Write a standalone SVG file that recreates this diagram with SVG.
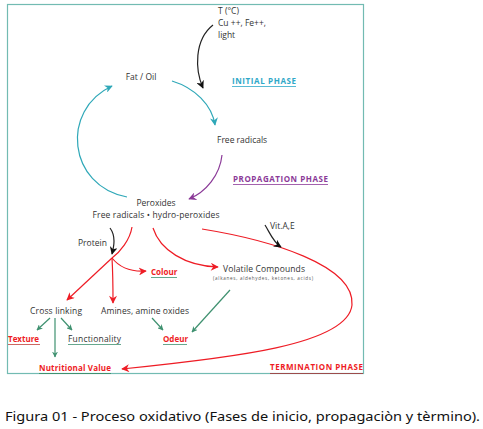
<svg xmlns="http://www.w3.org/2000/svg" width="483" height="429" viewBox="0 0 483 429">
<defs>
<style>
.t{font-family:"Open Sans","Noto Sans","Liberation Sans",sans-serif;font-size:8.5px;fill:#333}
.b{font-family:"Open Sans","Noto Sans","Liberation Sans",sans-serif;font-size:8px;font-weight:bold}
.s{font-family:"Open Sans","Noto Sans","Liberation Sans",sans-serif;font-size:4.6px;fill:#555}
.cap{font-family:"Noto Sans","Open Sans",sans-serif;font-size:12.5px;fill:#111}
.c{fill:none;stroke-width:1.2}
</style>
<marker id="aT" viewBox="0 0 10 10" refX="9" refY="5" markerWidth="8" markerHeight="8" orient="auto" markerUnits="userSpaceOnUse"><path d="M0,0 L10,5 L0,10 L3,5 z" fill="#2fa8b8"/></marker>
<marker id="aK" viewBox="0 0 10 10" refX="9" refY="5" markerWidth="8" markerHeight="8" orient="auto" markerUnits="userSpaceOnUse"><path d="M0,0 L10,5 L0,10 L3,5 z" fill="#111"/></marker>
<marker id="aP" viewBox="0 0 10 10" refX="9" refY="5" markerWidth="8" markerHeight="8" orient="auto" markerUnits="userSpaceOnUse"><path d="M0,0 L10,5 L0,10 L3,5 z" fill="#8b3a98"/></marker>
<marker id="aR" viewBox="0 0 10 10" refX="9" refY="5" markerWidth="9" markerHeight="8" orient="auto" markerUnits="userSpaceOnUse"><path d="M0,0 L10,5 L0,10 L3,5 z" fill="#ee1c25"/></marker>
<marker id="aG" viewBox="0 0 10 10" refX="9" refY="5" markerWidth="6" markerHeight="6" orient="auto" markerUnits="userSpaceOnUse"><path d="M0,0 L10,5 L0,10 L3,5 z" fill="#3f9170"/></marker>
</defs>
<rect x="0" y="0" width="483" height="429" fill="#fff"/>
<rect x="7.5" y="4.5" width="356" height="369" fill="none" stroke="#72bbb2" stroke-width="1.2"/>

<g id="connectors">
<path class="c" d="M213,25 C194,40 195,70 203,88" stroke="#222" marker-end="url(#aK)"/>
<path class="c" d="M172,81 C195,88 212,105 215,125" stroke="#2fa8b8" marker-end="url(#aT)"/>
<path class="c" d="M222,155 C220,175 206,192 189,199" stroke="#8b3a98" marker-end="url(#aP)"/>
<path class="c" d="M127,197 C68,186 60,110 112,86" stroke="#2fa8b8" marker-end="url(#aT)"/>
<path class="c" d="M110,228 C116,236 114,246 112,254" stroke="#222" marker-end="url(#aK)"/>
<path class="c" d="M132,227 C130,240 120,252 112,258" stroke="#ee1c25"/>
<path class="c" d="M112,258 L67,300" stroke="#ee1c25" marker-end="url(#aR)"/>
<path class="c" d="M112,258 C113,275 113,290 113,303" stroke="#ee1c25" marker-end="url(#aR)"/>
<path class="c" d="M112,258 C120,268 132,272 146,271" stroke="#ee1c25" marker-end="url(#aR)"/>
<path class="c" d="M153,228 C160,250 185,266 218,267" stroke="#ee1c25" marker-end="url(#aR)"/>
<path class="c" d="M202,229 C270,240 355,265 352,305 C348,345 230,358 122,369" stroke="#ee1c25" marker-end="url(#aR)"/>
<path class="c" d="M265,225 C270,233 273,242 281,247" stroke="#222" marker-end="url(#aK)"/>
<path class="c" d="M230,290 L192,332" stroke="#3f9170" marker-end="url(#aG)"/>
<path class="c" d="M50,318 L37,330" stroke="#3f9170" marker-end="url(#aG)"/>
<path class="c" d="M61,318 L72,330" stroke="#3f9170" marker-end="url(#aG)"/>
<path class="c" d="M55,318 L55,357" stroke="#3f9170" marker-end="url(#aG)"/>
<path class="c" d="M152,318 L163,330" stroke="#3f9170" marker-end="url(#aG)"/>
</g>

<g id="catalysts"><text class="t" x="218" y="14">T (°C)</text><text class="t" x="218" y="26">Cu ++, Fe++,</text><text class="t" x="218" y="38">light</text></g>
<g id="initial-phase"><text class="b" x="232" y="84" fill="#2fa8c8" textLength="64">INITIAL PHASE</text><line x1="232" y1="86.5" x2="296" y2="86.5" stroke="#2fa8c8" stroke-width="0.8"/></g>
<g id="fat-oil"><text class="t" x="141" y="80" text-anchor="middle">Fat / Oil</text></g>
<g id="free-radicals"><text class="t" x="217" y="143">Free radicals</text></g>
<g id="propagation-phase"><text class="b" x="233" y="182" fill="#8b3a98" textLength="95">PROPAGATION PHASE</text><line x1="233" y1="184.5" x2="328" y2="184.5" stroke="#8b3a98" stroke-width="0.8"/></g>
<g id="peroxides"><text class="t" x="156" y="206" text-anchor="middle">Peroxides</text><text class="t" x="156" y="218" text-anchor="middle" textLength="127">Free radicals • hydro-peroxides</text></g>
<g id="protein"><text class="t" x="78" y="246">Protein</text></g>
<g id="vit"><text class="t" x="270" y="229">Vit.A,E</text></g>
<g id="colour"><text class="b" x="151" y="275" fill="#ee1c25">Colour</text><line x1="151" y1="277.5" x2="177" y2="277.5" stroke="#3f9170" stroke-width="0.8"/></g>
<g id="volatile"><text class="t" x="223" y="272" textLength="82">Volatile Compounds</text><text class="s" x="213" y="280" textLength="100">(alkanes, aldehydes, ketones, acids)</text></g>
<g id="cross-linking"><text class="t" x="30" y="314" textLength="52">Cross linking</text></g>
<g id="amines"><text class="t" x="101" y="314" textLength="88">Amines, amine oxides</text></g>
<g id="texture"><text class="b" x="8" y="342" fill="#ee1c25">Texture</text><line x1="8" y1="344.5" x2="40" y2="344.5" stroke="#c0403a" stroke-width="0.8"/></g>
<g id="functionality"><text class="t" x="68" y="342" textLength="53">Functionality</text><line x1="68" y1="344.5" x2="121" y2="344.5" stroke="#3f9170" stroke-width="0.8"/></g>
<g id="odeur"><text class="b" x="163" y="342" fill="#ee1c25">Odeur</text><line x1="163" y1="344.5" x2="187" y2="344.5" stroke="#3f9170" stroke-width="0.8"/></g>
<g id="nutritional"><text class="b" x="39" y="371" fill="#ee1c25" textLength="72">Nutritional Value</text><line x1="39" y1="373.5" x2="111" y2="373.5" stroke="#3f9170" stroke-width="1"/></g>
<g id="termination-phase"><text class="b" x="270" y="370" fill="#ee1c25" textLength="93">TERMINATION PHASE</text><line x1="270" y1="373.5" x2="363" y2="373.5" stroke="#a04040" stroke-width="0.9"/></g>
<text class="cap" x="5" y="421" textLength="475" lengthAdjust="spacingAndGlyphs">Figura 01 - Proceso oxidativo (Fases de inicio, propagaciòn y tèrmino).</text>
</svg>
